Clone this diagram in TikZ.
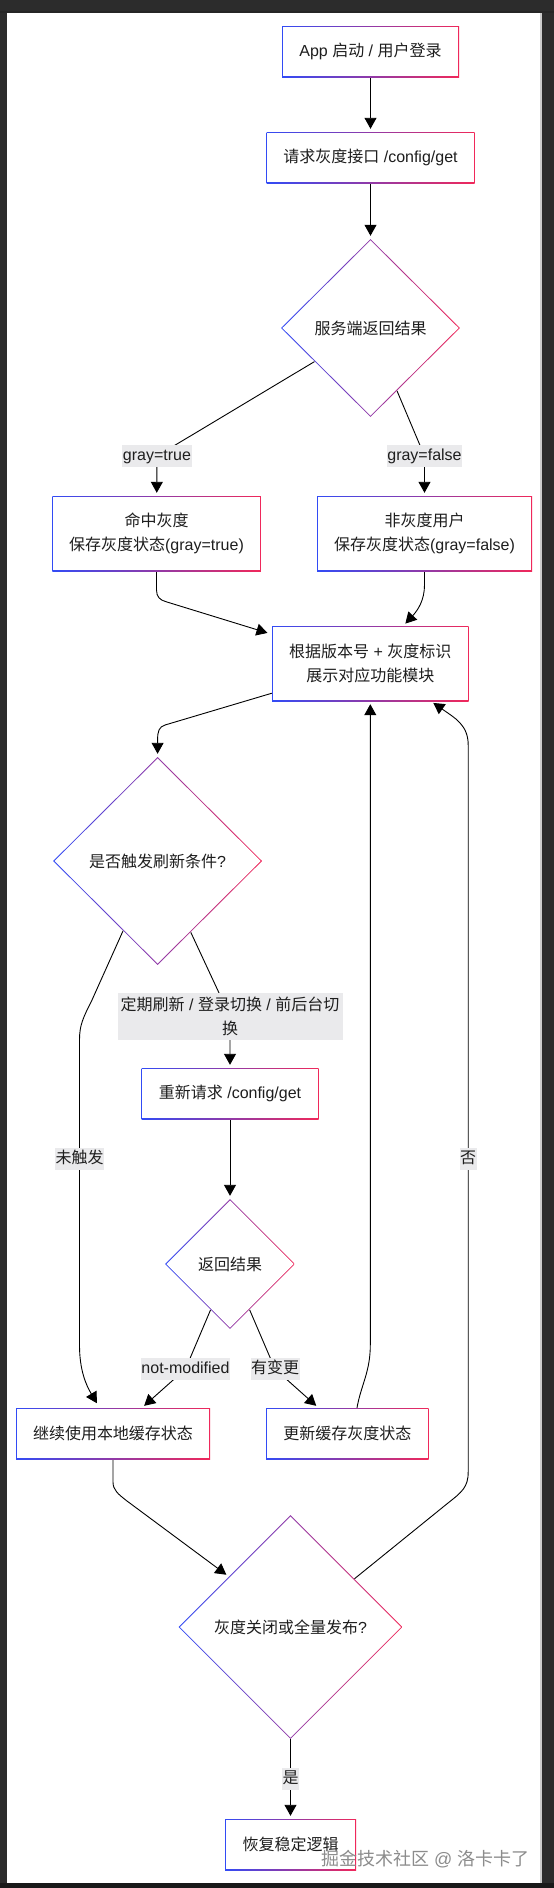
\documentclass[tikz,border=0pt]{standalone}
\usepackage{fontspec}
\setmainfont{Noto Sans CJK SC}
\newfontfamily\lat{Liberation Sans}
\usetikzlibrary{shapes.geometric,arrows.meta,calc}
\pgfdeclarelayer{back}
\pgfdeclarelayer{edges}
\pgfsetlayers{back,edges,main}
\definecolor{gblue}{RGB}{50,75,245}
\definecolor{gred}{RGB}{240,40,90}
\definecolor{framec}{RGB}{44,44,44}
\definecolor{lblbg}{RGB}{234,234,236}
\definecolor{txt}{RGB}{30,30,30}
\definecolor{wmgray}{RGB}{140,140,140}
\newcommand\myfs{\fontsize{16}{24}\selectfont}
\tikzset{
  gbox/.style={rectangle, fill=white, inner sep=0pt, font=\myfs, text=txt, align=center,
    path picture={
      \shade[left color=gblue,right color=gred] (path picture bounding box.south west) rectangle (path picture bounding box.north east);
      \fill[white] ([shift={(0.95pt,0.95pt)}]path picture bounding box.south west) rectangle ([shift={(-0.95pt,-0.95pt)}]path picture bounding box.north east);
    }},
  gdiam/.style={diamond, aspect=1, fill=white, inner sep=0pt, font=\myfs, text=txt, align=center,
    path picture={
      \shade[left color=gblue,right color=gred] (path picture bounding box.south west) rectangle (path picture bounding box.north east);
      \fill[white] ([xshift=1.4pt]path picture bounding box.west) -- ([yshift=-1.4pt]path picture bounding box.north) -- ([xshift=-1.4pt]path picture bounding box.east) -- ([yshift=1.4pt]path picture bounding box.south) -- cycle;
    }},
  lbl/.style={fill=lblbg, inner xsep=0.5pt, inner ysep=0pt, text height=11.5pt, text depth=3.5pt, minimum height=22.5pt, font=\myfs, text=txt},
  arr/.style={draw=black, line width=0.9pt, -{Triangle[length=11pt,width=12pt]}, shorten >=3pt},
}
\begin{document}
\begin{tikzpicture}[x=1pt,y=-1pt]
\useasboundingbox (0,0) rectangle (554,1888);
\begin{pgfonlayer}{back}
  \fill[framec] (0,0) rectangle (554,1888);
  \fill[black!85] (0,10.5) rectangle (554,12.5);
  \fill[black!90] (0,1883) rectangle (554,1888);
  \fill[white] (7,12.5) rectangle (540,1883);
  \fill[gray!40] (540,12.5) rectangle (541.5,1883);
\end{pgfonlayer}

% nodes
\node[gbox, minimum width=177pt, minimum height=51pt] (n1) at (370.5,51.5) {{\lat App\ }启动{\lat\ /\ }用户登录};
\node[gbox, minimum width=208pt, minimum height=51pt] (n2) at (370.5,157.5) {请求灰度接口{\lat\ /config/get}};
\node[gdiam, minimum width=179pt, minimum height=178pt] (d1) at (370.5,328) {服务端返回结果};
\node[lbl] (l1) at (157,456) {\lat gray=true};
\node[lbl] (l2) at (424.5,456) {\lat gray=false};
\node[gbox, minimum width=208.5pt, minimum height=75pt] (n3) at (156.5,533.5) {命中灰度\\保存灰度状态{\lat (gray=true)}};
\node[gbox, minimum width=215pt, minimum height=75pt] (n4) at (424.5,533.5) {非灰度用户\\保存灰度状态{\lat (gray=false)}};
\node[gbox, minimum width=196.5pt, minimum height=75pt] (n5) at (370.3,663.5) {根据版本号{\lat\ +\ }灰度标识\\展示对应功能模块};
\node[gdiam, minimum width=209pt, minimum height=208pt] (d2) at (157.6,861) {是否触发刷新条件{\lat ?}};
\node[fill=lblbg, inner sep=0pt, minimum width=225pt, minimum height=47pt, align=center, font=\fontsize{16}{23.5}\selectfont, text=txt] (l3) at (230,1016.5) {定期刷新{\lat\ /\ }登录切换{\lat\ /\ }前后台切\\换};
\node[gbox, minimum width=177pt, minimum height=51pt] (n6) at (230,1093.5) {重新请求{\lat\ /config/get}};
\node[gdiam, minimum width=130pt, minimum height=130pt] (d3) at (230,1264) {返回结果};
\node[lbl] (l4) at (185.5,1369) {\lat not-modified};
\node[lbl] (l5) at (275,1369) {有变更};
\node[lbl] (l6) at (79.5,1159) {未触发};
\node[lbl] (l7) at (468.2,1159) {否};
\node[gbox, minimum width=194pt, minimum height=51pt] (n7) at (113,1433.5) {继续使用本地缓存状态};
\node[gbox, minimum width=162.6pt, minimum height=51pt] (n8) at (347.3,1433.5) {更新缓存灰度状态};
\node[gdiam, minimum width=224pt, minimum height=224pt] (d4) at (290.5,1627) {灰度关闭或全量发布{\lat ?}};
\node[lbl] (l8) at (290.5,1779) {是};
\node[gbox, minimum width=131pt, minimum height=51pt] (n9) at (290.5,1844.5) {恢复稳定逻辑};
\node[anchor=west, inner sep=0pt, font=\fontsize{18}{18}\selectfont, text=wmgray] (wm) at (321,1859) {掘金技术社区{\lat\ @\ }洛卡卡了};

% edges
\begin{pgfonlayer}{edges}
  \draw[arr] (n1) -- (n2);
  \draw[arr] (n2) -- (d1);
  \draw[arr] (d1) -- (l1.center) -- (n3);
  \draw[arr] (d1) -- (l2.center) -- (n4);
  \draw[arr] (n3.south) -- (156.5,590) .. controls (156.5,597) and (160,600) .. (166,601.7) -- ($(n5.north west)+(-1.5pt,-8pt)$);
  \draw[arr] (n4.south) -- (424.5,585) .. controls (424.5,600) and (418,610) .. ($(n5.north)+(33pt,0pt)$);
  \draw[arr] ($(n5.south west)+(0pt,8pt)$) -- (165,725) .. controls (159,727) and (157.6,731) .. (157.6,740) -- (d2.north);
  \draw[arr] (d2) -- (l3.center) -- (n6);
  \draw[arr] (n6) -- (d3);
  \draw[arr] (d3) -- (l4.center) -- (n7);
  \draw[arr] (d3) -- (l5.center) -- (n8);
  \draw[arr] ($(d2.west)!0.67!(d2.south)$) -- (92,1000) .. controls (83,1018) and (79.5,1025) .. (79.5,1040) -- (l6.center) -- (79.5,1345) .. controls (79.5,1370) and (86,1385) .. ($(n7.north)+(-14.5pt,2pt)$);
  \draw[arr] ($(n8.north)+(9.7pt,0pt)$) .. controls (361,1385) and (370.3,1372) .. (370.3,1345) -- (n5.south);
  \draw[arr] (n7.south) -- (113,1482) .. controls (113,1490) and (118,1494) .. (127,1501) -- ($(d4.west)!0.45!(d4.north)$);
  \draw[arr] ($(d4.north)!0.57!(d4.east)$) -- (448,1503) .. controls (462,1492) and (468.2,1487) .. (468.2,1472) -- (l7.center) -- (468.2,745) .. controls (468.2,725) and (455,718) .. ($(n5.south)+(60.5pt,0pt)$);
  \draw[arr] (d4) -- (l8.center) -- (n9);
\end{pgfonlayer}
\end{tikzpicture}
\end{document}
